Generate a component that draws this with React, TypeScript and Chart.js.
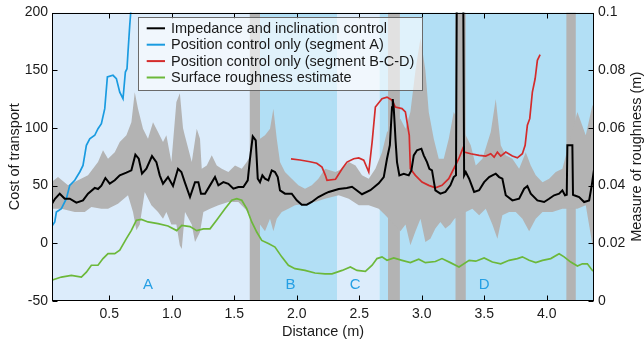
import React, { useEffect, useRef } from 'react';
import { Chart, registerables } from 'chart.js';
Chart.register(...registerables);

const FONT = '"Liberation Sans", Arial, Helvetica, sans-serif';

// ---- Data ----
const blackX = [0.037,0.066,0.104,0.144,0.184,0.237,0.29,0.33,0.384,0.41,0.437,0.469,0.504,0.544,0.584,0.637,0.677,0.709,0.736,0.762,0.797,0.842,0.877,0.904,0.93,0.97,1.01,1.05,1.077,1.104,1.146,1.186,1.213,1.234,1.266,1.306,1.346,1.373,1.413,1.453,1.493,1.533,1.573,1.608,1.626,1.648,1.672,1.688,1.706,1.725,1.746,1.773,1.8,1.826,1.848,1.866,1.906,1.96,2.0,2.04,2.08,2.12,2.173,2.226,2.256,2.336,2.4,2.442,2.522,2.589,2.656,2.696,2.722,2.745,2.762,2.768,2.776,2.784,2.79,2.802,2.821,2.856,2.896,2.917,2.936,2.962,2.997,3.016,3.042,3.061,3.082,3.109,3.149,3.189,3.229,3.256,3.274,3.282,3.33,3.339,3.352,3.379,3.419,3.459,3.499,3.539,3.565,3.592,3.619,3.645,3.672,3.725,3.779,3.819,3.845,3.872,3.925,3.979,4.019,4.059,4.099,4.125,4.146,4.16,4.165,4.205,4.21,4.219,4.259,4.299,4.339,4.36,4.379];
const blackY = [33.4,38.6,43,38.6,38.6,35.2,37.2,43,48,47,50,56.6,51.7,54.6,58.9,61.2,63.2,76.8,73.3,60.3,64.6,75.6,70.4,58.9,51.7,57.4,49.7,64.6,61.8,53,40.1,53,53,43,43,50.2,57.4,50.2,53,51.6,47.3,48.8,48.8,54.6,73.3,92.7,89.2,56,53,58.9,56,54.6,63.2,61.8,57.4,45.9,43,43,37.2,33.5,33.5,35.8,40.1,43,44.5,47,48,49,42.5,46,52,57.4,73.3,85,118,125,117,102,90,70.4,58.9,60.3,58.9,63.2,76.2,80.6,82,76.2,70.4,64.6,63.2,45.9,43,44.5,50.2,57.4,58.9,260,260,58.9,61.8,56,44.5,46,53,57.4,58.9,60.3,57.4,56,41.6,37.2,38.6,47.3,49.5,43,37.2,35.8,38.6,41.6,43,45.9,41.6,42,84.9,84.9,42,41.6,40.1,35.8,37.2,50.2,64.6];

const bandUpperX = [0.037,0.09,0.17,0.25,0.33,0.41,0.45,0.49,0.544,0.584,0.637,0.677,0.704,0.73,0.77,0.81,0.85,0.89,0.93,0.957,0.997,1.037,1.065,1.09,1.104,1.16,1.2,1.226,1.24,1.28,1.32,1.36,1.4,1.453,1.506,1.56,1.6,1.706,1.746,1.786,1.813,1.84,1.866,1.906,1.96,2.013,2.066,2.12,2.173,2.226,2.31,2.363,2.416,2.47,2.522,2.576,2.629,2.682,2.722,2.829,2.87,2.909,2.95,2.99,3.029,3.056,3.096,3.136,3.176,3.216,3.256,3.352,3.392,3.432,3.485,3.552,3.592,3.632,3.672,3.725,3.779,3.832,3.872,3.912,3.966,4.019,4.072,4.125,4.245,4.312,4.366,4.39];
const bandUpperY = [53,57.4,50.2,54.6,58.9,70.4,80.6,73.3,79,87.8,93.6,105,131,116.7,99.3,90.6,105,96.5,87.8,93.6,70.4,122.5,130,100,93.6,70.4,99.3,90.6,64.6,67.5,76.2,67.5,64.6,61.8,67.5,64.6,70.4,90.6,93.6,99.3,116.7,90.6,70.4,61.8,56,50.2,47.3,50.2,56,64.6,61.8,64.6,70.4,67.5,58.9,56,64.6,79,96.5,108,99.3,113.8,150,178,150,113.8,90.6,73.3,73.3,90.6,113.8,93.6,84.9,67.5,73.3,96.5,125,84.9,76.2,73.3,64.6,79,67.5,58.9,53,56,61.8,64.6,113.8,93.6,120,110];
const bandLowerX = [0.037,0.117,0.224,0.304,0.357,0.437,0.49,0.57,0.65,0.69,0.717,0.744,0.784,0.837,0.89,0.93,0.957,0.997,1.037,1.064,1.08,1.106,1.16,1.186,1.226,1.253,1.306,1.373,1.453,1.533,1.586,1.706,1.746,1.786,1.813,1.84,1.88,1.933,1.986,2.066,2.146,2.226,2.336,2.416,2.496,2.576,2.656,2.709,2.829,2.87,2.909,2.95,2.99,3.029,3.069,3.109,3.149,3.189,3.229,3.262,3.352,3.405,3.459,3.512,3.565,3.605,3.645,3.699,3.752,3.805,3.859,3.912,3.966,4.045,4.125,4.245,4.312,4.366,4.39];
const bandLowerY = [30,30,27.1,27.1,31.5,30,30,34.3,41.6,27.1,11.3,16.3,44.5,32.9,27.1,21.3,27.1,16.3,16.3,-1.7,-5,27.1,16.3,1.1,9.8,27.1,30,32.9,35.8,35.8,30,16.3,10.5,21.3,10.5,21.3,27.1,30,32.9,34.3,35.8,38.6,41.6,38.6,32.9,32.9,30,24.2,10.5,16.3,-1.7,10.5,21.3,1.1,4,12.8,18.4,12.8,16.3,21.3,27.1,30,24.2,30,16.3,4,24.2,27.1,27.1,21.3,10.5,21.3,27.1,27.1,30,30,32.9,-1.7,-10];

const blueX = [0.037,0.064,0.077,0.117,0.157,0.184,0.224,0.264,0.29,0.317,0.344,0.384,0.41,0.437,0.464,0.485,0.53,0.557,0.584,0.61,0.629,0.642,0.65,0.664,0.672,0.69];
const blueY = [14.1,18.5,27.1,30,38.6,50.2,54.6,61.8,67.5,84.9,90.6,93.6,99.3,103.7,116.7,144.2,145.6,142.7,131,125.3,148.4,151.3,165.8,188.9,200.4,240];

const redX = [1.954,2.026,2.106,2.16,2.202,2.229,2.242,2.31,2.363,2.402,2.456,2.496,2.536,2.576,2.603,2.629,2.682,2.722,2.762,2.789,2.842,2.869,2.9,2.909,2.949,3.002,3.056,3.109,3.162,3.216,3.256,3.296,3.328,3.339,3.392,3.459,3.512,3.552,3.579,3.605,3.632,3.672,3.725,3.765,3.805,3.827,3.845,3.864,3.885,3.907,3.925,3.947];
const redY = [73.1,72.2,70.7,69.4,66,58.9,54.6,55.5,64.6,70.4,73.3,74,72,61.8,87.8,118.1,125.3,126.7,124,118.1,116.7,113.8,93.6,64.6,58.9,53,50.2,48,50.2,56,64.6,73.3,82,79,77.6,76.2,75.6,77.6,74.7,79,75.6,79,75.6,74,77.6,84.9,102.3,108,131.1,142.6,158.6,163.5];

const greenX = [0.037,0.117,0.197,0.277,0.317,0.357,0.41,0.45,0.49,0.544,0.584,0.637,0.677,0.717,0.757,0.81,0.89,0.97,1.04,1.08,1.146,1.2,1.253,1.306,1.36,1.426,1.48,1.52,1.56,1.6,1.64,1.68,1.72,1.773,1.826,1.88,1.933,1.986,2.066,2.146,2.226,2.282,2.363,2.429,2.482,2.549,2.603,2.642,2.682,2.722,2.776,2.842,2.909,2.976,3.029,3.109,3.162,3.229,3.298,3.379,3.432,3.499,3.565,3.632,3.699,3.765,3.805,3.859,3.912,3.966,4.032,4.099,4.139,4.192,4.245,4.285,4.325,4.365,4.392];
const greenY = [0.0072,0.0083,0.0089,0.0083,0.01,0.0124,0.0124,0.0147,0.0164,0.0164,0.0176,0.0216,0.0245,0.028,0.0283,0.0274,0.0268,0.026,0.0244,0.0262,0.0258,0.0244,0.025,0.025,0.0281,0.032,0.0349,0.0355,0.0349,0.032,0.0274,0.0239,0.021,0.0199,0.0187,0.0153,0.0124,0.0112,0.0106,0.0097,0.0094,0.0094,0.0106,0.0118,0.0106,0.0103,0.0124,0.0147,0.0153,0.0141,0.0149,0.0141,0.0133,0.0145,0.0133,0.0137,0.0147,0.0133,0.0118,0.0141,0.0138,0.0149,0.0135,0.0129,0.0141,0.0147,0.0153,0.0141,0.0133,0.0141,0.0147,0.0164,0.0153,0.0135,0.0121,0.0129,0.0129,0.0106,0.01];

// Segments (background regions) and full-height gray bands
const regionStart = [0, 1.666, 2.322, 2.662];
const regionEnd = [1.666, 2.322, 2.662, 4.5];
const regionShade = ['light', 'medium', 'light', 'medium'];
const regionLabels = ['A', 'B', 'C', 'D'];
const regionLabelX = [0.81, 1.95, 2.467, 3.5];
const regionLabelY = -36;
const grayBandStart = [1.624, 2.73, 3.27, 4.157];
const grayBandEnd = [1.706, 2.825, 3.352, 4.232];

const legendLabels = [
  'Impedance and inclination control',
  'Position control only (segment A)',
  'Position control only (segment B-C-D)',
  'Surface roughness estimate',
];

const LIGHT = '#dcecfb';
const MEDIUM = '#b2dff5';
const GRAY = '#b3b3b3';
const BLACK = '#000000';
const BLUE = '#1a9be0';
const RED = '#d42b2b';
const GREEN = '#6cb83a';
const LABEL_BLUE = '#259fe4';

const pts = (xs: number[], ys: number[]) => xs.map((x, i) => ({ x, y: ys[i] }));

const decorPlugin = {
  id: 'decor',
  beforeDatasetsDraw(chart: any) {
    const { ctx, chartArea: a, scales } = chart;
    const x = scales.x;
    ctx.save();
    ctx.beginPath();
    ctx.rect(a.left, a.top, a.right - a.left, a.bottom - a.top);
    ctx.clip();
    regionStart.forEach((s, i) => {
      const x0 = x.getPixelForValue(s);
      const x1 = x.getPixelForValue(regionEnd[i]);
      ctx.fillStyle = regionShade[i] === 'light' ? LIGHT : MEDIUM;
      ctx.fillRect(x0, a.top, x1 - x0, a.bottom - a.top);
    });
    grayBandStart.forEach((s, i) => {
      const x0 = x.getPixelForValue(s);
      const x1 = x.getPixelForValue(grayBandEnd[i]);
      ctx.fillStyle = GRAY;
      ctx.fillRect(x0, a.top, x1 - x0, a.bottom - a.top);
    });
    ctx.restore();
  },
  afterDatasetsDraw(chart: any) {
    const { ctx, chartArea: a, scales } = chart;
    const { x, y, y1 } = scales;
    ctx.save();
    ctx.fillStyle = LABEL_BLUE;
    ctx.font = `15px ${FONT}`;
    ctx.textAlign = 'center';
    ctx.textBaseline = 'middle';
    regionLabels.forEach((t, i) => {
      ctx.fillText(t, x.getPixelForValue(regionLabelX[i]), y.getPixelForValue(regionLabelY));
    });
    const L = Math.round(a.left) + 0.5, R = Math.round(a.right) - 0.5;
    const T = Math.round(a.top) + 0.5, B = Math.round(a.bottom) - 0.5;
    ctx.strokeStyle = '#000';
    ctx.lineWidth = 1;
    ctx.strokeRect(L, T, R - L, B - T);
    const tl = 5;
    ctx.beginPath();
    x.ticks.forEach((t: any) => {
      const px = Math.round(x.getPixelForValue(t.value)) + 0.5;
      ctx.moveTo(px, B); ctx.lineTo(px, B - tl);
      ctx.moveTo(px, T); ctx.lineTo(px, T + tl);
    });
    y.ticks.forEach((t: any) => {
      const py = Math.round(y.getPixelForValue(t.value)) + 0.5;
      ctx.moveTo(L, py); ctx.lineTo(L + tl, py);
    });
    y1.ticks.forEach((t: any) => {
      const py = Math.round(y1.getPixelForValue(t.value)) + 0.5;
      ctx.moveTo(R, py); ctx.lineTo(R - tl, py);
    });
    ctx.stroke();
    ctx.restore();
  },
  afterDraw(chart: any) {
    const { ctx, chartArea: a } = chart;
    ctx.save();
    ctx.fillStyle = '#1a1a1a';
    ctx.font = `14.5px ${FONT}`;
    ctx.textAlign = 'center';
    ctx.textBaseline = 'middle';
    ctx.translate(637, (a.top + a.bottom) / 2);
    ctx.rotate(-Math.PI / 2);
    ctx.fillText('Measure of roughness (m)', 0, 0);
    ctx.restore();

    ctx.save();
    const lx = a.left + 86, ly = a.top + 4.5, lw = 284, lh = 73;
    ctx.fillStyle = 'rgba(255,255,255,0.6)';
    ctx.fillRect(lx, ly, lw, lh);
    ctx.strokeStyle = '#6a6a6a';
    ctx.lineWidth = 1;
    ctx.strokeRect(Math.round(lx) + 0.5, Math.round(ly) + 0.5, lw, lh);
    ctx.font = `14.5px ${FONT}`;
    ctx.textAlign = 'left';
    ctx.textBaseline = 'middle';
    const colors = [BLACK, BLUE, RED, GREEN];
    legendLabels.forEach((t, i) => {
      const cy = ly + 11.3 + i * 16.4;
      ctx.strokeStyle = colors[i];
      ctx.lineWidth = 2;
      ctx.beginPath();
      ctx.moveTo(lx + 8.7, cy);
      ctx.lineTo(lx + 27, cy);
      ctx.stroke();
      ctx.fillStyle = '#1a1a1a';
      ctx.fillText(t, lx + 33, cy + 0.5);
    });
    ctx.restore();
  },
};

export default function App() {
  const ref = useRef<HTMLCanvasElement | null>(null);
  useEffect(() => {
    if (!ref.current) return;
    const tickFont = { family: FONT, size: 14 };
    const chart = new Chart(ref.current, {
      type: 'line',
      data: {
        datasets: [
          { label: 'black', data: pts(blackX, blackY), borderColor: BLACK, borderWidth: 2, pointRadius: 0, yAxisID: 'y', order: 0, fill: false },
          { label: 'blue', data: pts(blueX, blueY), borderColor: BLUE, borderWidth: 1.7, pointRadius: 0, yAxisID: 'y', order: 1, fill: false },
          { label: 'red', data: pts(redX, redY), borderColor: RED, borderWidth: 1.7, pointRadius: 0, yAxisID: 'y', order: 2, fill: false },
          { label: 'green', data: pts(greenX, greenY), borderColor: GREEN, borderWidth: 1.7, pointRadius: 0, yAxisID: 'y1', order: 3, fill: false },
          { label: 'upper', data: pts(bandUpperX, bandUpperY), borderColor: GRAY, borderWidth: 0, pointRadius: 0, yAxisID: 'y', order: 4, fill: { target: 5 }, backgroundColor: GRAY },
          { label: 'lower', data: pts(bandLowerX, bandLowerY), borderColor: GRAY, borderWidth: 0, pointRadius: 0, yAxisID: 'y', order: 5, fill: false },
        ] as any,
      },
      options: {
        animation: false,
        responsive: false,
        devicePixelRatio: 1,
        layout: { padding: { top: 12.5, left: 0, right: 0, bottom: 0 } },
        plugins: { legend: { display: false }, tooltip: { enabled: false } },
        elements: { line: { tension: 0 } },
        scales: {
          x: {
            type: 'linear',
            min: 0.042,
            max: 4.378,
            grid: { display: false, drawTicks: false },
            border: { display: false },
            ticks: {
              stepSize: 0.5,
              includeBounds: false,
              font: tickFont,
              color: '#1a1a1a',
              padding: 5,
              maxRotation: 0,
              callback: (v: any) => Number(v).toFixed(1),
            },
            title: { display: true, text: 'Distance (m)', font: { family: FONT, size: 14.5 }, color: '#1a1a1a', padding: { top: 0, bottom: 0 } },
            afterFit: (s: any) => { s.height = 40; },
          },
          y: {
            type: 'linear',
            position: 'left',
            min: -50,
            max: 200,
            grid: { display: false, drawTicks: false },
            border: { display: false },
            ticks: { stepSize: 50, font: tickFont, color: '#1a1a1a', padding: 4 },
            title: { display: true, text: 'Cost of transport', font: { family: FONT, size: 14.5 }, color: '#1a1a1a', padding: { top: 6, bottom: 0 } },
            afterFit: (s: any) => { s.width = 52; },
          },
          y1: {
            type: 'linear',
            position: 'right',
            min: 0,
            max: 0.1,
            grid: { display: false, drawTicks: false },
            border: { display: false },
            ticks: {
              stepSize: 0.02,
              font: tickFont,
              color: '#1a1a1a',
              padding: 4,
              callback: (v: any) => String(Number(Number(v).toFixed(3))),
            },
            title: { display: false },
            afterFit: (s: any) => { s.width = 50; },
          },
        },
      } as any,
      plugins: [decorPlugin],
    });
    return () => chart.destroy();
  }, []);
  return (
    <div style={{ position: 'fixed', left: 0, top: 0, width: 644, height: 341, background: '#fff' }}>
      <canvas ref={ref} width={644} height={341} style={{ display: 'block', width: 644, height: 341 }} />
    </div>
  );
}
